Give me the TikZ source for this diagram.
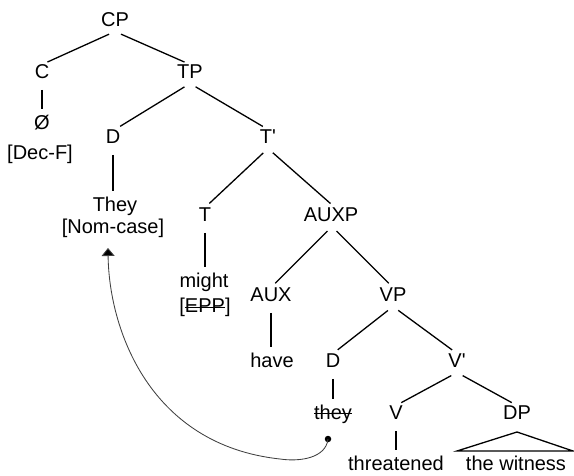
\documentclass[tikz,border=0pt]{standalone}
\usepackage{fontspec}
\setmainfont{Liberation Sans}[Ligatures=TeXOff]
\usetikzlibrary{arrows.meta}
% struck-out text: a rule laid across the box at about half the x-height
\newsavebox{\strkbox}
\newcommand{\mystrike}[1]{\sbox{\strkbox}{#1}%
  \rlap{\raisebox{0.27em}{\rule{\wd\strkbox}{1pt}}}\usebox{\strkbox}}
\begin{document}
\begin{tikzpicture}[x=1pt,y=-1pt,
  lab/.style={anchor=base,inner sep=0pt,outer sep=0pt,
    text height=14.5pt,text depth=4.5pt,
    font=\fontsize{20}{24}\selectfont,text=black},
  branch/.style={line width=1.3pt,shorten <=6.5pt,shorten >=6pt},
  move/.style={line width=0.85pt,draw=black!75,
    -{Triangle[length=8pt,width=13pt,fill=black]}}]
\useasboundingbox (0,0) rectangle (574,476);

% labels
\node[lab] (CP)   at (115,27)  {CP};
\node[lab] (C)    at (42,79)   {C};
\node[lab] (TP)   at (190,79)  {TP};
\node[lab] (null) at (42,130)  {Ø};
\node[lab] (decf) at (40,160)  {[Dec-F]};
\node[lab] (D1)   at (113,144) {D};
\node[lab] (Tbar) at (268,144) {T'};
\node[lab] (they) at (115,212) {They};
\node[lab] (nom)  at (113,234) {[Nom-case]};
\node[lab] (T)    at (205,222) {T};
\node[lab] (AUXP) at (331,222) {AUXP};
\node[lab] (might) at (204,288) {might};
\node[lab] (epp)  at (205,313) {[\mystrike{EPP}]};
\node[lab] (AUX)  at (271,302) {AUX};
\node[lab] (VP)   at (393,302) {VP};
\node[lab] (have) at (272,368) {have};
\node[lab] (D2)   at (333,368) {D};
\node[lab] (Vbar) at (457,368) {V'};
\node[lab] (trace) at (333,419) {\mystrike{they}};
\node[lab] (V)    at (396,420) {V};
\node[lab] (DP)   at (517,420) {DP};
\node[lab] (verb) at (396,470) {threatened};
\node[lab] (obj)  at (516,470) {the witness};

% branches
\draw[branch] (CP.south) -- (C.north);
\draw[branch] (CP.south) -- (TP.north);
\draw[branch] (C.south) -- (null.north);
\draw[branch] (TP.south) -- ([xshift=2pt]D1.north);
\draw[branch] (TP.south) -- (Tbar.north);
\draw[branch] (D1.south) -- (D1.south |- they.north);
\draw[branch] (Tbar.south) -- (T.north);
\draw[branch] (Tbar.south) -- ([xshift=4pt]AUXP.north);
\draw[branch] (T.south) -- (T.south |- might.north);
\draw[branch] ([xshift=1pt]AUXP.south) -- (AUX.north);
\draw[branch] ([xshift=1pt]AUXP.south) -- (VP.north);
\draw[branch] (AUX.south) -- (AUX.south |- have.north);
\draw[branch] (VP.south) -- (D2.north);
\draw[branch] (VP.south) -- (Vbar.north);
\draw[branch] (D2.south) -- (D2.south |- trace.north);
\draw[branch] (Vbar.south) -- (V.north);
\draw[branch] (Vbar.south) -- (DP.north);
\draw[branch] (V.south) -- (V.south |- verb.north);

% triangle over the object phrase
\coordinate (apex) at (517,432);
\coordinate (bl) at (457,451);
\coordinate (br) at (573,451);
\draw[line width=1.3pt,line join=miter] (apex) -- (bl) -- (br) -- cycle;

% movement arrow from the trace up to the subject
\node[circle,fill=black,inner sep=0pt,minimum size=6.5pt] (dot) at (328,439) {};
\coordinate (land) at (108,248);
\draw[move] (dot.center) .. controls (326,458) and (300,462) .. (280,459)
  .. controls (150,445) and (109,330) .. (land);
\end{tikzpicture}
\end{document}
